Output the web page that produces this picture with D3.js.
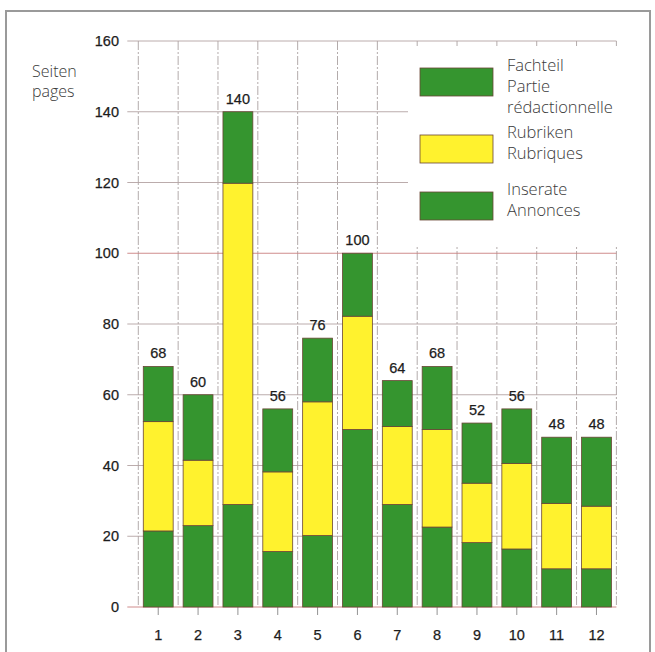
<!DOCTYPE html>
<html>
<head>
<meta charset="utf-8">
<script src="https://cdn.jsdelivr.net/npm/d3@7"></script>
<style>
  body { margin: 0; background: #fff; }
  svg { display: block; }
</style>
</head>
<body>
<script>
// values (pages per issue)
const issues = ["1", "2", "3", "4", "5", "6", "7", "8", "9", "10", "11", "12"];
const fachteil = [21.5, 23.0, 29.0, 15.7, 20.2, 50.2, 29.0, 22.6, 18.2, 16.4, 10.8, 10.8];
const rubriken = [30.9, 18.5, 90.8, 22.5, 37.8, 32.0, 22.0, 27.6, 16.8, 24.2, 18.5, 17.7];
const inserate = [15.6, 18.5, 20.2, 17.8, 18.0, 17.8, 13.0, 17.8, 17.0, 15.4, 18.7, 19.5];
const totals = [68, 60, 140, 56, 76, 100, 64, 68, 52, 56, 48, 48];
const yTicks = [0, 20, 40, 60, 80, 100, 120, 140, 160];

const legendItems = [
  { key: "fachteil", lines: ["Fachteil", "Partie", "rédactionnelle"] },
  { key: "rubriken", lines: ["Rubriken", "Rubriques"] },
  { key: "inserate", lines: ["Inserate", "Annonces"] }
];

const W = 655, H = 652;
const green = "#35952f", yellow = "#fff22e";
const color = d3.scaleOrdinal()
  .domain(["fachteil", "rubriken", "inserate"])
  .range([green, yellow, green]);

const svg = d3.select("body").append("svg")
  .attr("width", W)
  .attr("height", H);

// frame round the figure
svg.append("rect")
  .attr("x", 6).attr("y", 11)
  .attr("width", 644).attr("height", 660)
  .attr("fill", "none")
  .attr("stroke", "#9a9a9a")
  .attr("stroke-width", 2);

const x = d3.scaleBand()
  .domain(issues)
  .range([138.3, 616.4])
  .paddingInner(0.25)
  .paddingOuter(0.125);

const y = d3.scaleLinear()
  .domain([0, 160])
  .range([607, 41]);

const xLeft = x.range()[0], xRight = x.range()[1];
const numFont = "Liberation Sans, Arial, sans-serif";

// vertical grid on the boundaries between bars
const bounds = issues.map(d => x(d) - x.step() * x.paddingInner() / 2);
bounds.push(xRight);
svg.append("g").selectAll("line")
  .data(bounds)
  .join("line")
  .attr("x1", d => d).attr("x2", d => d)
  .attr("y1", y(160)).attr("y2", y(0))
  .attr("stroke", "#a09696")
  .attr("stroke-width", 0.8)
  .attr("stroke-dasharray", "9,2,2,2");

// horizontal grid
svg.append("g").selectAll("line")
  .data(yTicks)
  .join("line")
  .attr("x1", xLeft - 11).attr("x2", xRight)
  .attr("y1", d => y(d)).attr("y2", d => y(d))
  .attr("stroke", d => d === 0 || d === 100 ? "#c98080" : "#b3a3a3")
  .attr("stroke-width", 0.9);

// y tick labels
svg.append("g").selectAll("text")
  .data(yTicks)
  .join("text")
  .attr("x", 119)
  .attr("y", d => y(d))
  .attr("dy", "0.36em")
  .attr("text-anchor", "end")
  .attr("font-family", numFont)
  .attr("font-size", 14.5)
  .attr("fill", "#1c1c1c")
  .attr("stroke", "#1c1c1c")
  .attr("stroke-width", 0.25)
  .text(d => d);

// x ticks and labels
const xg = svg.append("g");
xg.selectAll("line")
  .data(issues)
  .join("line")
  .attr("x1", d => x(d) + x.bandwidth() / 2)
  .attr("x2", d => x(d) + x.bandwidth() / 2)
  .attr("y1", y(0)).attr("y2", y(0) + 8)
  .attr("stroke", "#777")
  .attr("stroke-width", 0.8);
xg.selectAll("text")
  .data(issues)
  .join("text")
  .attr("x", d => x(d) + x.bandwidth() / 2)
  .attr("y", 640)
  .attr("text-anchor", "middle")
  .attr("font-family", numFont)
  .attr("font-size", 14.5)
  .attr("fill", "#1c1c1c")
  .attr("stroke", "#1c1c1c")
  .attr("stroke-width", 0.25)
  .text(d => d);

// stacked bars
const rows = issues.map((d, i) => ({
  issue: d, fachteil: fachteil[i], rubriken: rubriken[i], inserate: inserate[i]
}));
const stack = d3.stack().keys(["fachteil", "rubriken", "inserate"]);
const series = stack(rows);

svg.append("g").selectAll("g")
  .data(series)
  .join("g")
  .attr("fill", d => color(d.key))
  .selectAll("rect")
  .data(d => d)
  .join("rect")
  .attr("x", d => x(d.data.issue))
  .attr("y", d => y(d[1]))
  .attr("width", x.bandwidth())
  .attr("height", d => y(d[0]) - y(d[1]))
  .attr("stroke", "#6a4636")
  .attr("stroke-width", 0.8);

// totals above the bars
svg.append("g").selectAll("text")
  .data(issues)
  .join("text")
  .attr("x", d => x(d) + x.bandwidth() / 2)
  .attr("y", (d, i) => y(totals[i]) - 8)
  .attr("text-anchor", "middle")
  .attr("font-family", numFont)
  .attr("font-size", 14.5)
  .attr("fill", "#1c1c1c")
  .attr("stroke", "#1c1c1c")
  .attr("stroke-width", 0.25)
  .text((d, i) => totals[i]);

// legend sits on a white patch that hides the grid
svg.append("rect")
  .attr("x", 408).attr("y", 46)
  .attr("width", 213).attr("height", 199)
  .attr("fill", "#fff");

const swatchTops = [68, 135, 192];
const lg = svg.append("g").selectAll("g")
  .data(legendItems)
  .join("g")
  .attr("transform", (d, i) => `translate(420,${swatchTops[i]})`);
lg.append("rect")
  .attr("width", 73).attr("height", 28)
  .attr("fill", d => color(d.key))
  .attr("stroke", "#6a4636")
  .attr("stroke-width", 0.8);
lg.append("text")
  .attr("x", 87)
  .attr("y", 3)
  .attr("font-family", "Open Sans, sans-serif")
  .attr("font-weight", 300)
  .attr("font-size", 16.5)
  .attr("fill", "#3a3a3a")
  .selectAll("tspan")
  .data(d => d.lines)
  .join("tspan")
  .attr("x", 87)
  .attr("dy", (d, i) => i === 0 ? 0 : 21)
  .text(d => d);

// axis title
svg.append("text")
  .attr("font-family", "Open Sans, sans-serif")
  .attr("font-weight", 300)
  .attr("font-size", 16)
  .attr("fill", "#3a3a3a")
  .selectAll("tspan")
  .data(["Seiten", "pages"])
  .join("tspan")
  .attr("x", 32)
  .attr("y", (d, i) => 77 + i * 20)
  .text(d => d);
</script>
</body>
</html>
